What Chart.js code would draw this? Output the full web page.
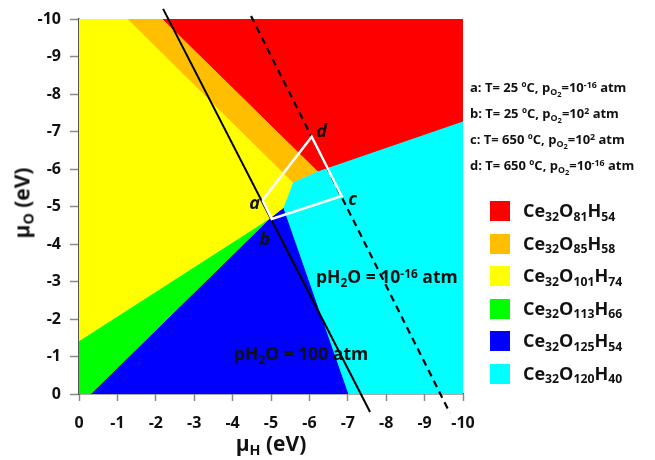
<!DOCTYPE html>
<html><head><meta charset="utf-8">
<script src="https://cdn.jsdelivr.net/npm/chart.js@4.4.0/dist/chart.umd.min.js"></script>
<style>
html,body{margin:0;padding:0;background:#fff;}
#wrap{position:relative;width:655px;height:460px;font-family:"Open Sans","Noto Sans",sans-serif;font-weight:700;color:#111;overflow:hidden;}
#c{position:absolute;left:0;top:0;}
.t{position:absolute;white-space:nowrap;line-height:1;}
.sub{font-size:0.68em;position:relative;top:0.3em;}
.sup{font-size:0.68em;position:relative;top:-0.45em;}
.sw{position:absolute;width:20px;height:20px;}
</style></head><body>
<div id="wrap">
<canvas id="c" width="655" height="460"></canvas>
<div id="overlay"></div>
</div>
<script>
// ---- data (chemical potentials in eV) ----
const tickValues = [0, -1, -2, -3, -4, -5, -6, -7, -8, -9, -10];
const phaseNames = [
  ['Ce','32','O','81','H','54'],
  ['Ce','32','O','85','H','58'],
  ['Ce','32','O','101','H','74'],
  ['Ce','32','O','113','H','66'],
  ['Ce','32','O','125','H','54'],
  ['Ce','32','O','120','H','40']
];
const phaseColors = ['#ff0000', '#ffbf00', '#ffff00', '#00ff00', '#0000ff', '#00ffff'];
// region boundaries [muH, muO]
const redRegion    = [[-2.19,-10],[-10,-10],[-10,-7.28],[-6.22,-5.95]];
const orangeRegion = [[-1.28,-10],[-2.19,-10],[-6.22,-5.95],[-5.57,-5.65]];
const yellowRegion = [[0,-10],[-1.28,-10],[-5.57,-5.65],[-5.31,-4.96],[-4.97,-4.69],[0,-1.42]];
const greenRegion  = [[0,-1.42],[-4.97,-4.69],[-0.30,0],[0,0]];
const blueRegion   = [[-4.97,-4.69],[-5.31,-4.96],[-7.00,0],[-0.30,0]];
const cyanRegion   = [[-10,-7.28],[-6.22,-5.95],[-5.57,-5.65],[-5.31,-4.96],[-7.00,0],[-10,0]];
// constant pH2O lines
const line100atm   = [[-2.19,-10.27],[-7.58,0.48]];
const line1e16atm  = [[-4.48,-10.08],[-9.66,0.51]];
// experimental conditions a-d
const condLabels = ['a', 'b', 'c', 'd'];
const condMu = [[-4.78,-5.17],[-5.02,-4.67],[-6.84,-5.28],[-6.06,-6.86]];
const condText = [
  ['a: T= 25 ºC, p','O','2','=10','-16',' atm'],
  ['b: T= 25 ºC, p','O','2','=10','2',' atm'],
  ['c: T= 650 ºC, p','O','2','=10','2',' atm'],
  ['d: T= 650 ºC, p','O','2','=10','-16',' atm']
];

const toXY = arr => arr.map(p => ({x: p[0], y: p[1]}));
const closed = arr => toXY(arr.concat([arr[0]]));
const regions = [redRegion, orangeRegion, yellowRegion, greenRegion, blueRegion, cyanRegion];

const datasets = [];
regions.forEach((r, i) => {
  datasets.push({
    data: closed(r), fill: 'shape', backgroundColor: phaseColors[i],
    borderColor: phaseColors[i], borderWidth: 1, pointRadius: 0, tension: 0, order: 10
  });
});
datasets.push({data: toXY(line100atm), borderColor: '#000', borderWidth: 2, pointRadius: 0, fill: false, clip: false, order: 2});
datasets.push({data: toXY(line1e16atm), borderColor: '#000', borderWidth: 2.2, borderDash: [7, 5], pointRadius: 0, fill: false, clip: false, order: 2});
datasets.push({data: closed(condMu), borderColor: '#fff', borderWidth: 2.5, pointRadius: 0, fill: false, order: 1});

const tickFont = {family: '"Open Sans"', weight: 'bold', size: 16};
const setTicks = s => { s.ticks = tickValues.map(v => ({value: v})); };

const overlay = document.getElementById('overlay');
function el(html, style, cls) {
  const d = document.createElement('div');
  d.className = cls || 't';
  d.innerHTML = html;
  Object.assign(d.style, style);
  overlay.appendChild(d);
  return d;
}

const labelPlugin = {
  id: 'condLabels',
  afterRender(chart) {
    if (chart._labelsDone) return;
    chart._labelsDone = true;
    const xs = chart.scales.x, ys = chart.scales.y;
    const offs = [[-8, 2], [-7, 19], [11, 2], [10, -7]];
    condLabels.forEach((l, i) => {
      const px = xs.getPixelForValue(condMu[i][0]) + offs[i][0];
      const py = ys.getPixelForValue(condMu[i][1]) + offs[i][1];
      el(l, {left: px + 'px', top: py + 'px', transform: 'translate(-50%,-50%)', fontStyle: 'italic', fontSize: '18px'});
    });
  }
};

new Chart(document.getElementById('c'), {
  type: 'line',
  data: {datasets},
  options: {
    responsive: false, animation: false,
    layout: {padding: {top: 19, right: 192, left: 0, bottom: 0}},
    plugins: {legend: {display: false}, tooltip: {enabled: false}},
    scales: {
      x: {
        type: 'linear', min: -10, max: 0, reverse: true,
        afterBuildTicks: setTicks,
        afterFit: s => { s.height = 66; },
        grid: {drawOnChartArea: false, tickLength: 7, tickColor: '#888', tickWidth: 1.5},
        border: {color: '#555', width: 1.5},
        ticks: {font: tickFont, color: '#111', padding: 13, maxRotation: 0, callback: v => String(v)}
      },
      y: {
        type: 'linear', min: -10, max: 0, reverse: true,
        afterBuildTicks: setTicks,
        afterFit: s => { s.width = 79; },
        grid: {drawOnChartArea: false, tickLength: 9, tickColor: '#888', tickWidth: 1.5},
        border: {color: '#555', width: 1.5},
        ticks: {font: tickFont, color: '#111', padding: 9, callback: v => String(v)}
      }
    }
  },
  plugins: [labelPlugin]
});

// axis titles
el('μ<span class="sub">H</span> (eV)', {left: '271px', top: '443px', transform: 'translate(-50%,-50%)', fontSize: '21px'});
el('μ<span class="sub">O</span> (eV)', {left: '22px', top: '203px', transform: 'translate(-50%,-50%) rotate(-90deg)', fontSize: '21px'});
// line annotations
el('pH<span class="sub">2</span>O = 10<span class="sup">-16</span> atm', {left: '316px', top: '277px', transform: 'translateY(-50%)', fontSize: '17.5px'});
el('pH<span class="sub">2</span>O = 100 atm', {left: '234px', top: '354px', transform: 'translateY(-50%)', fontSize: '17.5px'});
// conditions text
const condY = [87, 113, 139, 165];
condText.forEach((c, i) => {
  el(c[0] + '<span class="sub">' + c[1] + '<span style="font-size:0.85em;position:relative;top:0.25em">' + c[2] + '</span></span>' + c[3] + '<span class="sup">' + c[4] + '</span>' + c[5],
     {left: '470px', top: condY[i] + 'px', transform: 'translateY(-50%)', fontSize: '13px'});
});
// legend
phaseNames.forEach((n, i) => {
  const y = 201 + i * 32.5;
  el('', {left: '490px', top: y + 'px', background: phaseColors[i]}, 'sw');
  el(n[0] + '<span class="sub">' + n[1] + '</span>' + n[2] + '<span class="sub">' + n[3] + '</span>' + n[4] + '<span class="sub">' + n[5] + '</span>',
     {left: '523px', top: (y + 9) + 'px', transform: 'translateY(-50%)', fontSize: '18px'});
});
</script>
</body></html>
